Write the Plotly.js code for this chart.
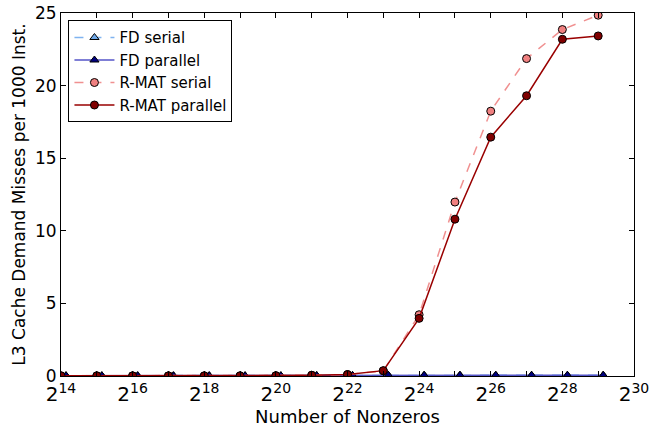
<!DOCTYPE html>
<html>
<head>
<meta charset="utf-8">
<script src="https://cdn.plot.ly/plotly-3.0.1.min.js"></script>
<style>html,body{margin:0;padding:0;background:#fff;}#chart{width:657px;height:428px;}</style>
</head>
<body>
<div id="chart"></div>
<script>
// exponents (log2 of number of nonzeros)
const rmatExp = [14,15,16,17,18,19,20,21,22,23,24,25,26,27,28,29];
const fdExp = [14.14,15.14,16.14,17.14,18.14,19.14,20.14,21.14,22.14,23.14,24.14,25.14,26.14,27.14,28.14,29.14];
const fdSerial = [0.02,0.02,0.02,0.02,0.02,0.02,0.02,0.03,0.04,0.05,0.05,0.05,0.05,0.05,0.05,0.05];
const fdParallel = [0.02,0.02,0.02,0.02,0.02,0.02,0.02,0.03,0.04,0.05,0.05,0.05,0.05,0.05,0.05,0.05];
const rmatSerial = [0.01,0.01,0.01,0.01,0.01,0.01,0.02,0.05,0.1,0.35,4.22,11.98,18.24,21.86,23.86,24.85];
const rmatParallel = [0.01,0.01,0.01,0.01,0.01,0.01,0.02,0.05,0.1,0.37,3.97,10.8,16.45,19.3,23.19,23.42];
const tickExp = [14,15,16,17,18,19,20,21,22,23,24,25,26,27,28,29,30];

const toX = e => e.map(k => Math.pow(2, k));
const tickVals = toX(tickExp);
const tickText = tickExp.map(k => k % 2 === 0 ? '2<sup>' + k + '</sup>' : '');

const mk = (sym, col) => ({symbol: sym, size: 8, color: col, line: {color: '#000', width: 1}});
const traces = [
  {x: toX(fdExp), y: fdSerial, name: 'FD serial', mode: 'lines+markers',
   line: {color: '#7fb3f0', width: 1.5, dash: 'dash'}, marker: mk('triangle-up', '#6fa8e8')},
  {x: toX(fdExp), y: fdParallel, name: 'FD parallel', mode: 'lines+markers',
   line: {color: '#5555c8', width: 1.5}, marker: mk('triangle-up', '#000080')},
  {x: toX(rmatExp), y: rmatSerial, name: 'R-MAT serial', mode: 'lines+markers',
   line: {color: '#f09090', width: 1.5, dash: 'dash'}, marker: mk('circle', '#f08080')},
  {x: toX(rmatExp), y: rmatParallel, name: 'R-MAT parallel', mode: 'lines+markers',
   line: {color: '#990000', width: 1.5}, marker: mk('circle', '#800000')}
];

const font = {family: 'DejaVu Sans, sans-serif', color: '#000'};
const layout = {
  width: 657, height: 428,
  margin: {l: 61, r: 23, t: 13, b: 52},
  paper_bgcolor: '#fff', plot_bgcolor: '#fff',
  font: font,
  showlegend: true,
  legend: {x: 0.013, y: 0.98, xanchor: 'left', yanchor: 'top',
    bordercolor: '#000', borderwidth: 1, bgcolor: '#fff',
    font: {family: 'DejaVu Sans, sans-serif', size: 15, color: '#000'},
    tracegroupgap: 0, itemwidth: 40},
  xaxis: {type: 'log', range: [Math.log10(Math.pow(2,14)), Math.log10(Math.pow(2,30))],
    tickmode: 'array', tickvals: tickVals, ticktext: tickText,
    ticks: 'inside', ticklen: 5, tickcolor: '#000', tickwidth: 1,
    showline: true, linecolor: '#000', linewidth: 1, mirror: 'ticks',
    showgrid: false, zeroline: false,
    tickfont: {family: 'DejaVu Sans, sans-serif', size: 20, color: '#000'},
    title: {text: 'Number of Nonzeros', font: {family: 'DejaVu Sans, sans-serif', size: 18, color: '#000'}, standoff: 3}},
  yaxis: {range: [0, 25], tickmode: 'array', tickvals: [0,5,10,15,20,25],
    ticks: 'inside', ticklen: 5, tickcolor: '#000', tickwidth: 1,
    showline: true, linecolor: '#000', linewidth: 1, mirror: 'ticks',
    showgrid: false, zeroline: false,
    tickfont: {family: 'DejaVu Sans, sans-serif', size: 17, color: '#000'},
    title: {text: 'L3 Cache Demand Misses per 1000 Inst.', font: {family: 'DejaVu Sans, sans-serif', size: 17, color: '#000'}, standoff: 5}}
};
Plotly.newPlot('chart', traces, layout, {displayModeBar: false, staticPlot: true});
</script>
</body>
</html>
